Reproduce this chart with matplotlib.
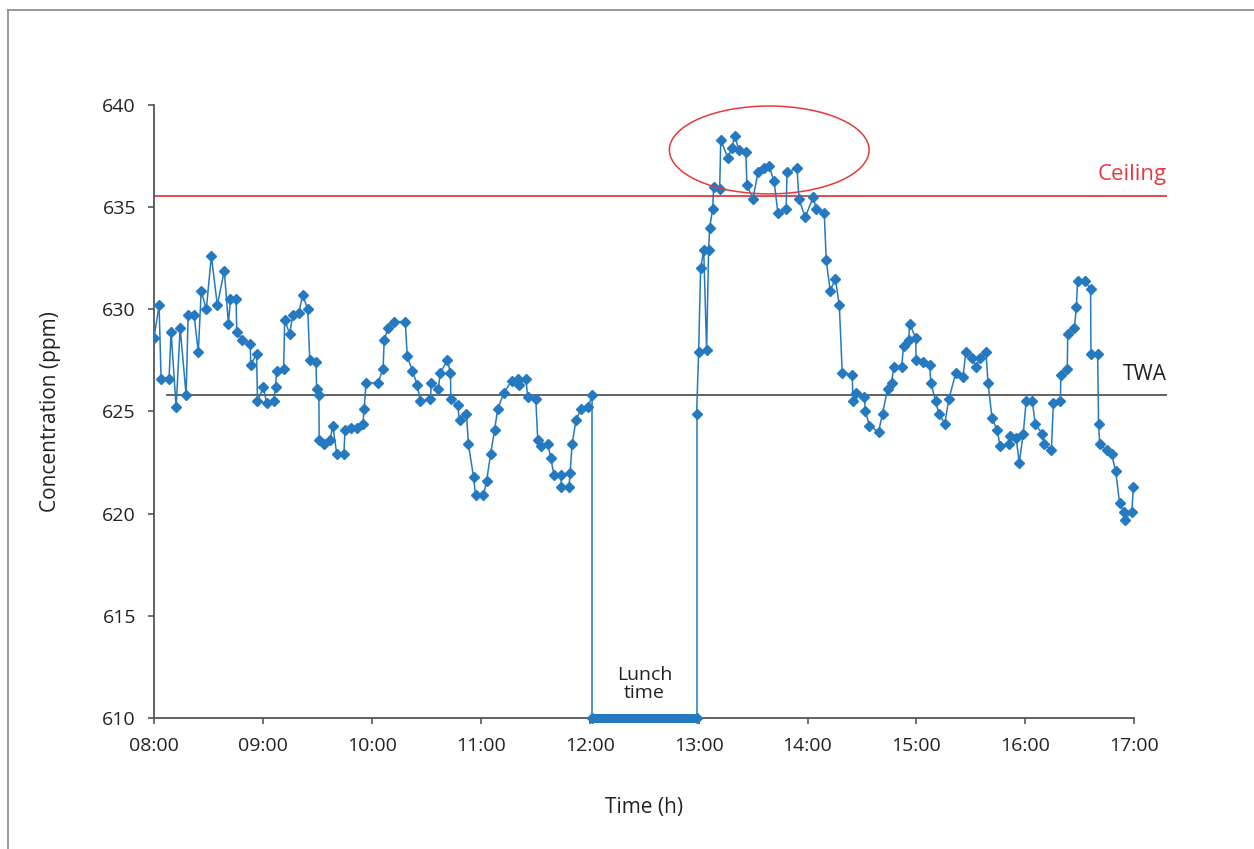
import matplotlib
matplotlib.use("Agg")
import matplotlib.pyplot as plt
from matplotlib.patches import Ellipse
from matplotlib.lines import Line2D
import numpy as np

plt.rcParams['font.family'] = ['Open Sans', 'DejaVu Sans']

# minutes after 08:00 and concentration (ppm) — morning session
morning_min = [0, 2.8, 3.9, 8.3, 9.4, 12.2, 14.4, 17.7, 18.8, 22.1, 24.4, 26.0, 28.8, 31.6, 34.9,
               38.7, 41.0, 42.1, 45.2, 45.6, 48.7, 53.0, 53.3, 56.5, 57.0, 60.3, 62.0, 65.9, 67.0,
               67.5, 71.4, 72.0, 74.7, 76.4, 79.7, 81.9, 84.7, 85.8, 89.2, 89.6, 90.8, 91.0, 93.5,
               96.9, 98.5, 100.7, 104.6, 105.2, 108.5, 111.8, 115.1, 115.7, 116.8, 123.4, 126.2,
               126.8, 129.0, 132.3, 138.4, 139.5, 142.3, 145.0, 146.7, 152.2, 152.8, 156.6, 157.7,
               161.6, 163.3, 163.5, 167.2, 168.3, 172.1, 173.2, 176.0, 177.1, 181.5, 183.2, 185.4,
               187.6, 189.3, 192.6, 197.0, 200.4, 200.9, 204.8, 205.9, 210.3, 211.4, 213.1, 217.0,
               218.6, 220.3, 224.2, 224.4, 228.6, 229.2, 230.3, 232.5, 235.2, 239.1, 241.3]
morning_ppm = [628.6, 630.2, 626.6, 626.6, 628.9, 625.2, 629.1, 625.8, 629.7, 629.7, 627.9, 630.9,
               630.0, 632.6, 630.2, 631.9, 629.3, 630.5, 630.5, 628.9, 628.5, 628.3, 627.3, 627.8,
               625.5, 626.2, 625.4, 625.5, 626.2, 627.0, 627.1, 629.5, 628.8, 629.7, 629.8, 630.7,
               630.0, 627.5, 627.4, 626.1, 625.8, 623.6, 623.4, 623.6, 624.3, 622.9, 622.9, 624.1,
               624.2, 624.2, 624.4, 625.1, 626.4, 626.4, 627.1, 628.5, 629.1, 629.4, 629.4, 627.7,
               627.0, 626.3, 625.5, 625.6, 626.4, 626.1, 626.9, 627.5, 626.9, 625.6, 625.3, 624.6,
               624.9, 623.4, 621.8, 620.9, 620.9, 621.6, 622.9, 624.1, 625.1, 625.9, 626.5, 626.6,
               626.3, 626.6, 625.7, 625.6, 623.6, 623.3, 623.4, 622.7, 621.9, 621.9, 621.3, 621.3,
               622.0, 623.4, 624.6, 625.1, 625.2, 625.8]

# afternoon session
afternoon_min = [298.9, 300.0, 301.1, 302.8, 304.4, 305.5, 306.1, 307.7, 308.3, 311.6, 312.2, 316.1,
                 318.3, 319.9, 322.1, 326.0, 326.6, 329.9, 332.7, 336.0, 338.7, 341.5, 343.7, 348.2,
                 348.7, 354.2, 355.3, 358.7, 363.1, 364.8, 369.2, 370.3, 372.5, 375.3, 377.5, 379.1,
                 384.7, 384.9, 386.9, 391.3, 391.9, 394.1, 399.1, 401.3, 404.1, 406.3, 407.4, 411.8,
                 412.9, 415.7, 416.2, 419.6, 419.8, 423.4, 427.3, 427.9, 430.6, 432.3, 435.6, 437.8,
                 441.7, 445.6, 447.2, 450.6, 452.8, 455.0, 458.3, 459.4, 461.6, 464.4, 466.1, 471.0,
                 471.6, 474.9, 476.6, 478.8, 480.4, 483.8, 485.4, 489.3, 490.4, 494.3, 495.4, 499.3,
                 499.5, 503.1, 503.3, 507.0, 508.1, 508.7, 512.6, 515.9, 516.1, 519.8, 520.3, 520.9,
                 524.7, 527.5, 529.7, 531.9, 534.1, 534.7, 538.6, 539.5]
afternoon_ppm = [624.9, 627.9, 632.0, 632.9, 628.0, 632.9, 634.0, 634.9, 636.0, 635.9, 638.3, 637.4,
                 637.9, 638.5, 637.8, 637.7, 636.1, 635.4, 636.7, 636.9, 637.0, 636.3, 634.7, 634.9,
                 636.7, 636.9, 635.4, 634.5, 635.5, 634.9, 634.7, 632.4, 630.9, 631.5, 630.2, 626.9,
                 626.8, 625.5, 625.9, 625.7, 625.0, 624.3, 624.0, 624.9, 626.1, 626.4, 627.2, 627.2,
                 628.2, 628.5, 629.3, 628.6, 627.5, 627.4, 627.3, 626.4, 625.5, 624.9, 624.4, 625.6,
                 626.9, 626.7, 627.9, 627.6, 627.2, 627.6, 627.9, 626.4, 624.7, 624.1, 623.3, 623.4,
                 623.8, 623.7, 622.5, 623.9, 625.5, 625.5, 624.4, 623.9, 623.4, 623.1, 625.4, 625.5,
                 626.8, 627.1, 628.8, 629.1, 630.1, 631.4, 631.4, 631.0, 627.8, 627.8, 624.4, 623.4,
                 623.1, 622.9, 622.1, 620.5, 620.1, 619.7, 620.1, 621.3]

lunch_start = 241.3
lunch_end = 298.9
twa = 625.8
ceiling = 635.55
x_ticks = [0, 60, 120, 180, 240, 300, 360, 420, 480, 540]
x_labels = ["08:00", "09:00", "10:00", "11:00", "12:00", "13:00", "14:00", "15:00", "16:00", "17:00"]
y_ticks = [610, 615, 620, 625, 630, 635, 640]

blue = "#2479C1"
red = "#E8383D"
gray = "#555555"
txt = "#222222"

fig = plt.figure(figsize=(12.54, 8.49), dpi=100)
ax = fig.add_axes([154/1254, 1 - 718/849, (1167-154)/1254, (718-105)/849])

ymin, ymax = 610, 640
ax.set_ylim(ymin, ymax)
ax.set_xlim(0, 558)

# reference lines
ax.plot([0, 558], [ceiling, ceiling], color=red, lw=1.3, zorder=2)
ax.plot([7, 558], [twa, twa], color=gray, lw=1.3, zorder=2)

# lunch break connectors and band
ax.plot([lunch_start, lunch_start], [morning_ppm[-1], ymin], color=blue, lw=1.1, zorder=3)
ax.plot([lunch_end, lunch_end], [ymin, afternoon_ppm[0]], color=blue, lw=1.1, zorder=3)
ax.plot([lunch_start, lunch_end], [ymin, ymin], color=blue, lw=6.5, solid_capstyle='butt',
        zorder=4, clip_on=False)
ax.plot([lunch_start, lunch_end], [ymin, ymin], color=blue, lw=0, marker='D', ms=5.5,
        zorder=4, clip_on=False)

# series
ax.plot(morning_min, morning_ppm, color=blue, lw=1.1, marker='D', ms=4.9, zorder=5)
ax.plot(afternoon_min, afternoon_ppm, color=blue, lw=1.1, marker='D', ms=4.9, zorder=5)

# ellipse around ceiling exceedance
ell = Ellipse((338.9, 637.8), width=110, height=4.3, fill=False, edgecolor=red, lw=1.1, zorder=6)
ax.add_patch(ell)

# texts
ax.text(558, ceiling + 0.55, "Ceiling", color=red, fontsize=16, ha='right', va='bottom')
ax.text(558, twa + 0.5, "TWA", color=txt, fontsize=15, ha='right', va='bottom')
ax.text((lunch_start + lunch_end) / 2, 610.8, "Lunch\ntime", color=txt, fontsize=14,
        ha='center', va='bottom', linespacing=1.0)

# axes styling
for s in ['top', 'right']:
    ax.spines[s].set_visible(False)
ax.spines['left'].set_color(gray)
ax.spines['bottom'].set_color(gray)
ax.spines['left'].set_linewidth(1.3)
ax.spines['bottom'].set_linewidth(1.3)
ax.spines['bottom'].set_bounds(0, 540)

ax.set_xticks(x_ticks)
ax.set_xticklabels(x_labels)
ax.set_yticks(y_ticks)
ax.tick_params(axis='both', direction='out', length=4, width=1.2, color=gray,
               labelsize=14, labelcolor=txt)
ax.tick_params(axis='y', pad=9)
ax.tick_params(axis='x', pad=10)

ax.set_xlabel("Time (h)", fontsize=15, color=txt)
ax.set_ylabel("Concentration (ppm)", fontsize=15, color=txt)
ax.xaxis.set_label_coords((644-154)/(1167-154), -(79)/(718-105))
ax.yaxis.set_label_coords(-(154-61)/(1167-154), 0.5)

# figure frame (left and top)
fig.add_artist(Line2D([8/1254, 8/1254], [0, 1 - 10/849], color="#888888", lw=1.2))
fig.add_artist(Line2D([8/1254, 1], [1 - 10/849, 1 - 10/849], color="#888888", lw=1.2))

fig.savefig("out.png", dpi=100)
